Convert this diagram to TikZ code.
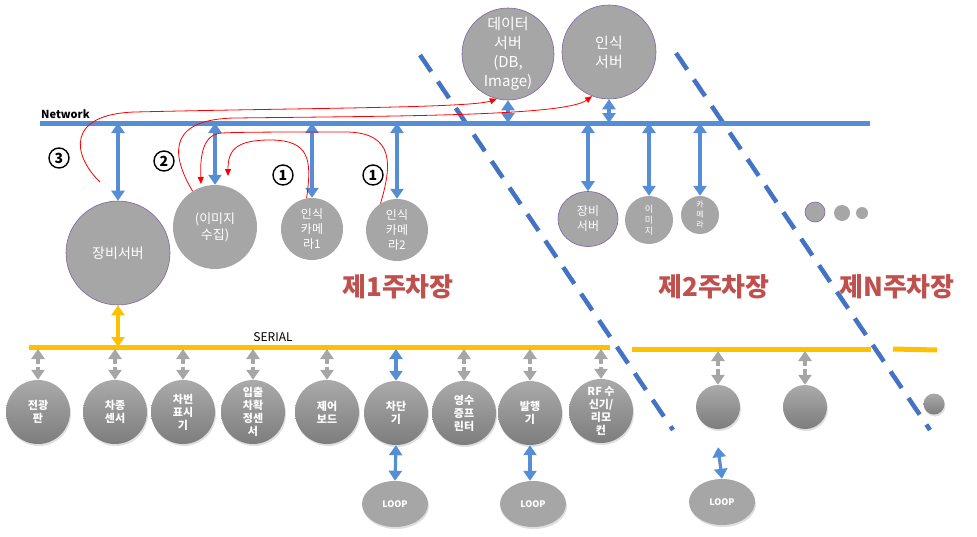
\documentclass[tikz,border=0pt]{standalone}
\usepackage{fontspec}
\setmainfont{Noto Sans CJK KR}
\usetikzlibrary{arrows.meta,shapes.geometric,shadows}
\definecolor{netblue}{RGB}{85,142,213}
\definecolor{dashblue}{RGB}{68,114,196}
\definecolor{serorange}{RGB}{255,192,0}
\definecolor{nodegray}{RGB}{166,166,166}
\definecolor{grayhi}{RGB}{170,170,170}
\definecolor{graylo}{RGB}{125,125,125}
\definecolor{outpurple}{RGB}{128,100,162}
\definecolor{lotred}{RGB}{192,80,77}
\definecolor{arrgray}{RGB}{166,166,166}
\tikzset{
  srv/.style={circle, fill=nodegray, draw=outpurple, line width=0.6pt, text=white, align=center, inner sep=0pt},
  gnode/.style={circle, fill=nodegray, text=white, align=center, inner sep=0pt},
  bnode/.style={circle, top color=grayhi, bottom color=graylo, draw=none, text=white, align=center,
     font=\bfseries\fontsize{11}{13}\selectfont, minimum size=64pt, inner sep=0pt,
     drop shadow={opacity=0.25, shadow xshift=1pt, shadow yshift=-2pt}},
  loopnode/.style={ellipse, fill=nodegray, text=white, font=\bfseries\fontsize{9}{11}\selectfont,
     minimum width=66pt, minimum height=46pt, inner sep=0pt,
     drop shadow={opacity=0.25, shadow xshift=1pt, shadow yshift=-2pt}},
  barrow/.style={draw=netblue, line width=3.2pt, {Triangle[width=13pt,length=10pt]}-{Triangle[width=13pt,length=10pt]}},
  oarrow/.style={draw=serorange, line width=3.2pt, {Triangle[width=13pt,length=10pt]}-{Triangle[width=13pt,length=10pt]}},
  garrow/.style={draw=arrgray, line width=3.2pt, dash pattern=on 6pt off 3pt, {Triangle[width=13pt,length=10pt]}-{Triangle[width=13pt,length=10pt]}},
  redarrow/.style={draw=red, line width=0.8pt, -{Triangle[width=6pt,length=7pt]}},
  netline/.style={draw=netblue, line width=5pt},
  serline/.style={draw=serorange, line width=5pt},
  dashline/.style={draw=dashblue, line width=4.5pt, dash pattern=on 20pt off 12pt},
  numc/.style={circle, draw=black, line width=1.4pt, inner sep=0pt, minimum size=20pt, font=\bfseries\fontsize{14}{14}\selectfont},
  lotlabel/.style={text=lotred, font=\bfseries\fontsize{26}{28}\selectfont},
}
\begin{document}
\begin{tikzpicture}[x=1pt, y=-1pt]
\useasboundingbox (0,0) rectangle (977,536);

% dashed separators
\coordinate (d1a) at (420,55); \coordinate (d1b) at (673,430);
\coordinate (d2a) at (676,53); \coordinate (d2b) at (930,430);
\draw[dashline] (d1a) -- (d1b);
\draw[dashline] (d2a) -- (d2b);

% network
\coordinate (netL) at (40,123); \coordinate (netR) at (870,123);
\draw[netline] (netL) -- (netR);
\node[font=\bfseries\fontsize{11}{11}\selectfont, anchor=south west, inner sep=1pt] (netlbl) at (40,120) {Network};

% serial
\coordinate (s1a) at (29,347); \coordinate (s1b) at (610,347);
\coordinate (s2a) at (632,349); \coordinate (s2b) at (871,349);
\coordinate (s3a) at (893,349); \coordinate (s3b) at (937,350);
\draw[serline] (s1a) -- (s1b);
\draw[serline] (s2a) -- (s2b);
\draw[serline] (s3a) -- (s3b);
\node[font=\fontsize{12}{12}\selectfont, anchor=south, inner sep=1pt] (serlbl) at (273,343) {SERIAL};

% servers
\node[srv, minimum size=92pt, font=\fontsize{15}{19}\selectfont] (data) at (508,54) {데이터\\서버\\(DB,\\Image)};
\node[srv, minimum size=94pt, font=\fontsize{15}{19}\selectfont] (recog) at (609,52) {인식\\서버};
\draw[barrow] (data.south) -- (data.south |- netL);
\draw[barrow] (recog.south) -- (recog.south |- netL);

% lot 1 top nodes
\node[srv, minimum size=104pt, font=\fontsize{14}{17}\selectfont] (equip) at (118,253) {장비서버};
\node[gnode, minimum size=84pt, font=\fontsize{13}{16}\selectfont] (imgc) at (215,227) {(이미지\\수집)};
\node[gnode, minimum size=62pt, font=\fontsize{12}{15}\selectfont] (cam1) at (312,229) {인식\\카메\\라1};
\node[gnode, minimum size=62pt, font=\fontsize{12}{15}\selectfont] (cam2) at (397,230) {인식\\카메\\라2};

\draw[barrow] (equip.north |- netL) -- (equip.north);
\draw[barrow] (imgc.north |- netL) -- (imgc.north);
\draw[barrow] (cam1.north |- netL) -- (cam1.north);
\draw[barrow] (cam2.north |- netL) -- (cam2.north);

% numbers
\node[numc] (n3) at (59,158) {3};
\node[numc] (n2) at (164,161) {2};
\node[numc] (n1a) at (283,175) {1};
\node[numc] (n1b) at (373,175) {1};

% red flows
\coordinate (r3s) at (100,182);
\coordinate (r1e) at (228,176);
\coordinate (r1f) at (201,184);
\draw[redarrow] (r3s) .. controls (72,155) and (66,114) .. (135,112) .. controls (300,108) and (470,108) .. (data.-104);
\draw[redarrow] (imgc.122) .. controls (168,150) and (172,119) .. (235,118) .. controls (400,116) and (565,116) .. (recog.-111);
\draw[redarrow] (cam1.100) .. controls (312,160) and (310,140) .. (270,140) .. controls (236,140) and (228,150) .. (r1e);
\draw[redarrow] (cam2.122) .. controls (392,165) and (395,132) .. (345,132) .. controls (280,132) and (240,132) .. (222,133) .. controls (203,134) and (200,155) .. (r1f);

% lot 2 top nodes
\node[srv, shape=ellipse, minimum width=60pt, minimum height=55pt, font=\fontsize{12}{15}\selectfont] (equip2) at (588,219) {장비\\서버};
\node[gnode, minimum size=48pt, font=\fontsize{9}{11}\selectfont] (img2) at (649,220) {이\\미\\지};
\node[gnode, minimum size=38pt, font=\fontsize{8}{10}\selectfont] (cam3) at (700,215) {카\\메\\라};
\draw[barrow] (equip2.north |- netL) -- (equip2.north);
\draw[barrow] (img2.north |- netL) -- (img2.north);
\draw[barrow] (cam3.north |- netL) -- (cam3.north);

% dots
\node[srv, minimum size=20pt] (dot1) at (815,212) {};
\node[gnode, minimum size=16pt] (dot2) at (842,213) {};
\node[gnode, minimum size=12pt] (dot3) at (862,213) {};

% lot labels
\node[lotlabel] (lot1) at (398,287) {제1주차장};
\node[lotlabel] (lot2) at (714,287) {제2주차장};
\node[lotlabel] (lotN) at (897,287) {제N주차장};

% orange arrow
\draw[oarrow] (equip.south) -- (equip.south |- s1a);

% bottom row
\node[bnode] (b1) at (38,412) {전광\\판};
\node[bnode] (b2) at (115,412) {차종\\센서};
\node[bnode] (b3) at (183,412) {차번\\표시\\기};
\node[bnode] (b4) at (253,412) {입출\\차확\\정센\\서};
\node[bnode] (b5) at (327,412) {제어\\보드};
\node[bnode] (b6) at (396,413) {차단\\기};
\node[bnode] (b7) at (464,413) {영수\\증프\\린터};
\node[bnode] (b8) at (530,413) {발행\\기};
\node[bnode] (b9) at (601,411) {RF 수\\신기/\\리모\\컨};

\foreach \n in {b1,b2,b3,b4,b5,b7,b8,b9}{
  \draw[garrow, shorten <=2pt] (\n.north |- s1a) -- (\n.north);
}
\draw[barrow, shorten <=2pt] (b6.north |- s1a) -- (b6.north);

% loops
\node[loopnode] (loop1) at (395,504) {LOOP};
\node[loopnode] (loop2) at (533,504) {LOOP};
\node[loopnode] (loop3) at (722,502) {LOOP};
\draw[barrow] (b6.south) -- (loop1.north);
\draw[barrow] (b8.south) -- (b8.south |- loop2.north);

% lot 2 / N bottom
\node[bnode, minimum size=44pt] (c1) at (718,407) {};
\node[bnode, minimum size=44pt] (c2) at (805,407) {};
\node[bnode, minimum size=21pt] (c3) at (934,404) {};
\draw[garrow, shorten <=2pt] (c1.north |- s2a) -- (c1.north);
\draw[garrow, shorten <=2pt] (c2.north |- s2a) -- (c2.north);
\draw[barrow] ([yshift=-18pt]c1.south) -- (loop3.north);
\end{tikzpicture}
\end{document}
